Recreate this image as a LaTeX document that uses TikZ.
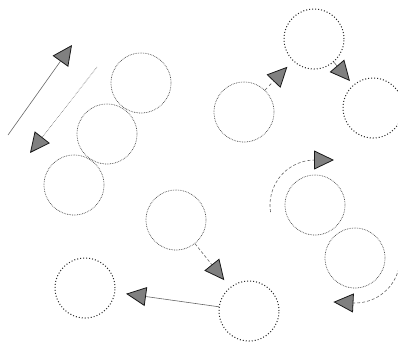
\documentclass[tikz,border=0pt]{standalone}
\usetikzlibrary{arrows.meta}
\begin{document}
\begin{tikzpicture}[x=1pt,y=-1pt,
 ring/.style={circle, minimum size=60pt, inner sep=0pt, draw=black!75, line width=0.7pt, densely dotted},
 dotring/.style={circle, minimum size=60pt, inner sep=0pt, draw=black!85, line width=1pt, dotted},
 tip/.style={-{Triangle[length=20pt,width=19pt,color=black!90,fill=black!50,line width=0.8pt]}},
 link/.style={tip, draw=black!60, line width=0.6pt},
]
\useasboundingbox (0,0) rectangle (398,345);
\node[ring] (A) at (141,83) {};
\node[ring] (B) at (107,134) {};
\node[ring] (C) at (74,185) {};
\node[dotring] (D) at (314,39) {};
\node[ring] (E) at (244,112) {};
\node[dotring] (F) at (373,108) {};
\node[ring] (G) at (315,205) {};
\node[ring] (H) at (355,258) {};
\node[ring] (I) at (176,220) {};
\node[dotring] (J) at (85,288) {};
\node[dotring] (K) at (249,311) {};
\coordinate (a1s) at (8,135);
\coordinate (a1e) at (72,45);
\coordinate (a2s) at (97,67);
\coordinate (a2e) at (30,153);
\draw[link] (a1s) -- (a1e);
\draw[link, densely dotted] (a2s) -- (a2e);
\draw[link, dashed, shorten >=8pt] (E) -- (D);
\draw[link, shorten >=5pt] (D) -- (F);
\draw[link, densely dashed, shorten >=9pt] (I) -- (K);
\draw[link, shorten >=11pt] (K) -- (J);
\draw[link, densely dashed] ([shift={(171:45)}]G.center) arc[start angle=171, end angle=270, radius=45] -- ++(19,0);
\draw[link, densely dashed] ([shift={(7:45)}]H.center) arc[start angle=7, end angle=92, radius=45] -- ++(-20,-1);
\end{tikzpicture}
\end{document}
